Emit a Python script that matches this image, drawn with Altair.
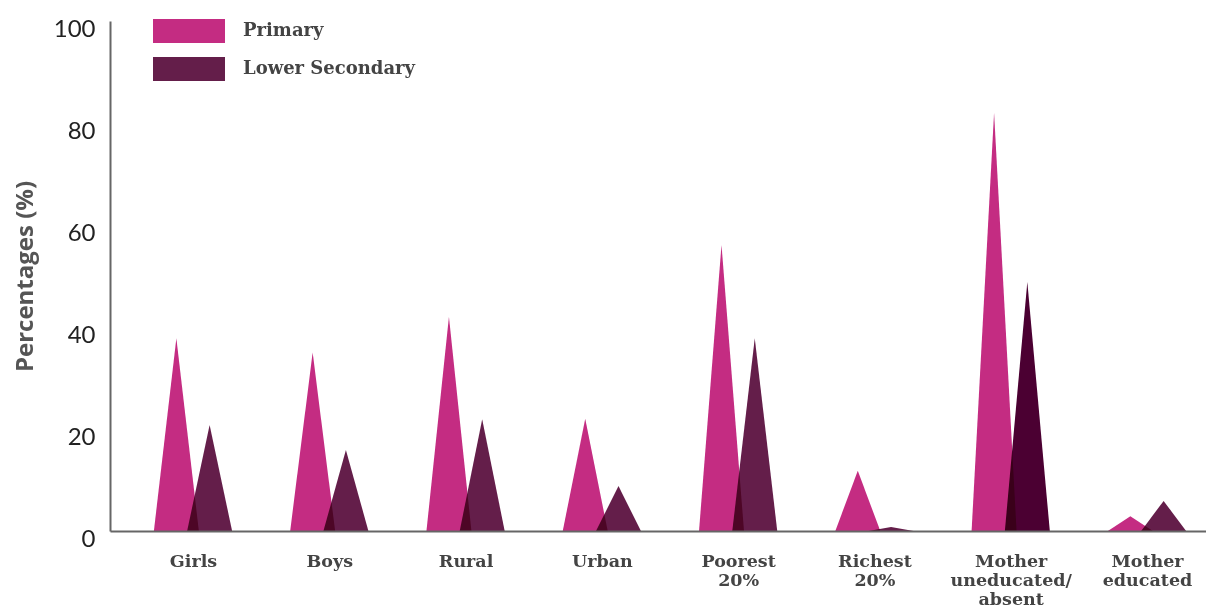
import json
import altair as alt
import pandas as pd

# ---- data ----
categories = ["Girls", "Boys", "Rural", "Urban", "Poorest 20%", "Richest 20%",
              "Mother uneducated/ absent", "Mother educated"]
label_lines = [["Girls"], ["Boys"], ["Rural"], ["Urban"], ["Poorest", "20%"],
               ["Richest", "20%"], ["Mother", "uneducated/", "absent"], ["Mother", "educated"]]
series = ["Primary", "Lower Secondary"]
primary = [37.8, 35.0, 42.0, 22.0, 56.1, 11.8, 82.0, 2.9]
lower_secondary = [20.8, 15.9, 21.9, 8.8, 37.8, 0.8, 48.8, 5.9]
y_ticks = [0, 20, 40, 60, 80, 100]

# ---- styling / layout constants ----
PRIMARY_COLOR = "#C42C82"
LS_COLOR = "#641E4A"
LS_HIGHLIGHT = "#4B0032"
OFFSET = 0.122      # shift of each spike from its category centre (category units)
HALF_W = 0.165      # half base width of each spike (category units)

rows = []
for i, cat in enumerate(categories):
    for s, vals, off in ((series[0], primary, -OFFSET), (series[1], lower_secondary, OFFSET)):
        c = i + 1 + off
        shade = s
        if s == series[1] and cat.startswith("Mother uneducated"):
            shade = "Lower Secondary (highlight)"
        key = f"{cat}|{s}"
        for xx, yy in ((c - HALF_W, 0.0), (c, vals[i]), (c + HALF_W, 0.0)):
            rows.append({"x": xx, "y": yy, "key": key, "shade": shade})
df = pd.DataFrame(rows)

label_expr = json.dumps(label_lines) + "[datum.value - 1]"

chart = alt.Chart(df).mark_area(blend="multiply", interpolate="linear").encode(
    x=alt.X("x:Q",
            scale=alt.Scale(domain=[0.391, 8.433], nice=False, zero=False),
            axis=alt.Axis(values=list(range(1, len(categories) + 1)), labelExpr=label_expr,
                          title="", grid=False, ticks=False, tickSize=0,
                          domainColor="#666666", domainWidth=2,
                          labelFont="DejaVu Serif", labelFontWeight="bold", labelFontSize=17.5,
                          labelColor="#444444", labelPadding=21, labelLineHeight=19,
                          labelOverlap=False, labelFlush=False, labelBound=False,
                          labelBaseline="top", zindex=1)),
    y=alt.Y("y:Q", stack=False,
            scale=alt.Scale(domain=[0, 100], nice=False),
            axis=alt.Axis(values=y_ticks, title="Percentages (%)", grid=False, ticks=False,
                          tickSize=0, domainColor="#666666", domainWidth=2,
                          labelFont="Lato", labelFontSize=24, labelColor="#222222",
                          labelPadding=15, labelOffset=8,
                          titleFont="Open Sans", titleFontSize=24, titleFontWeight="bold",
                          titleColor="#555555", titlePadding=16, zindex=1)),
    color=alt.Color("shade:N",
                    scale=alt.Scale(domain=series + ["Lower Secondary (highlight)"],
                                    range=[PRIMARY_COLOR, LS_COLOR, LS_HIGHLIGHT]),
                    legend=alt.Legend(values=series, title=None, orient="none",
                                      legendX=67, legendY=-2, padding=0,
                                      symbolType="M-3,-1H3V1H-3Z", symbolSize=576,
                                      symbolStrokeWidth=0, symbolOpacity=1,
                                      labelFont="DejaVu Serif", labelFontWeight="bold",
                                      labelFontSize=18, labelColor="#444444", labelLimit=0,
                                      labelOffset=42, rowPadding=14)),
    detail="key:N",
).properties(
    width=1096, height=510,
    autosize=alt.AutoSizeParams(type="none"),
    padding={"left": 102, "top": 13, "right": 0, "bottom": 76},
).configure(background="white").configure_view(stroke=None)

chart.save("out.html", embed_options={"renderer": "svg", "actions": False})
